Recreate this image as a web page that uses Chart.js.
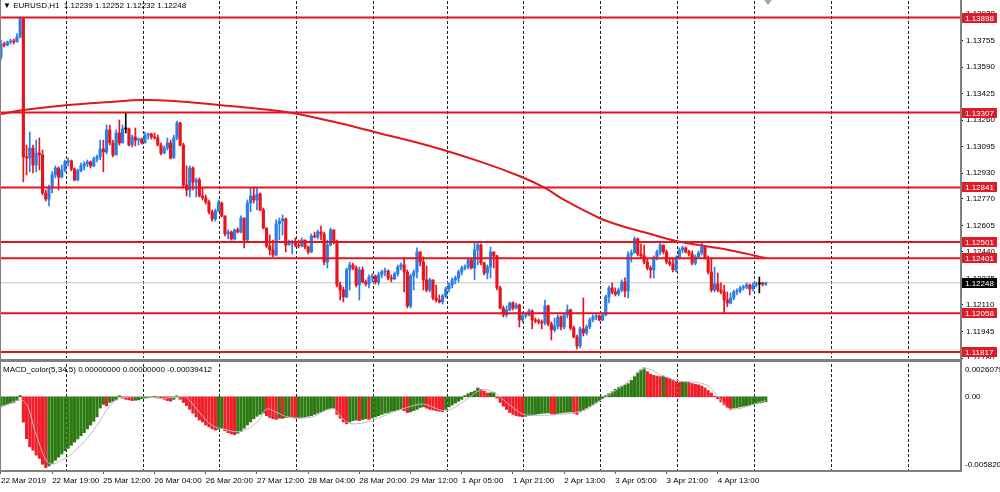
<!DOCTYPE html>
<html>
<head>
<meta charset="utf-8">
<script src="https://cdn.jsdelivr.net/npm/chart.js@4.4.1/dist/chart.umd.min.js"></script>
<style>
html, body { margin: 0; padding: 0; background: #fff; }
#wrap { position: relative; width: 1000px; height: 492px; overflow: hidden; font-family: "Liberation Sans", Arial, sans-serif; }
canvas { position: absolute; left: 0; }
#priceChart { top: 0; }
#macdChart { top: 359px; }
.hdr { position: absolute; left: 3px; font-size: 8px; line-height: 10px; color: #000; white-space: pre; }
.ln { position: absolute; background: #808080; }
#shift { position: absolute; left: 764px; top: 0; width: 0; height: 0; border-left: 4px solid transparent; border-right: 4px solid transparent; border-top: 5px solid #a8a8a8; }
</style>
</head>
<body>
<div id="wrap">
  <canvas id="priceChart" width="1000" height="359"></canvas>
  <canvas id="macdChart" width="1000" height="133"></canvas>
  <div class="ln" style="left:0;top:0;width:1px;height:472px"></div>
  <div class="ln" style="left:960px;top:0;width:2px;height:472px"></div>
  <div class="ln" style="left:0;top:359px;width:962px;height:3px"></div>
  <div class="ln" style="left:0;top:470px;width:962px;height:2px"></div>
  <div class="hdr" style="top:1px">▼ EURUSD,H1  1.12239 1.12252 1.12232 1.12248</div>
  <div class="hdr" style="top:365px">MACD_color(5,34,5) 0.00000000 0.00000000 -0.00039412</div>
  <div id="shift"></div>
</div>
<script>
// ---- data (H1 bars, index 0 = 22 Mar 2019 03:00) ----
const xLabels = ['22 Mar 2019', '22 Mar 19:00', '25 Mar 12:00', '26 Mar 04:00', '26 Mar 20:00',
  '27 Mar 12:00', '28 Mar 04:00', '28 Mar 20:00', '29 Mar 12:00', '1 Apr 05:00',
  '1 Apr 21:00', '2 Apr 13:00', '3 Apr 05:00', '3 Apr 21:00', '4 Apr 13:00'];
const labelBars = [0, 16, 32, 48, 64, 80, 96, 112, 128, 144, 160, 176, 192, 208, 224];
const gridBars = [20.3, 44.3, 68.2, 92.2, 116.3, 139.3, 163.2, 187.2, 211.3, 235.3, 259.3, 283.3];

const priceTicks = [1.13920, 1.13755, 1.13590, 1.13425, 1.13260, 1.13095, 1.12930,
  1.12770, 1.12605, 1.12440, 1.12275, 1.12110, 1.11945, 1.11780];
const levels = [1.13898, 1.13307, 1.12841, 1.12501, 1.12401, 1.12058, 1.11817];
const lastPrice = 1.12248;

// open of each bar = close of the bar before
const firstOpen = 1.13652;
const closes = [
  1.13733, 1.13727, 1.13746, 1.13752, 1.13746, 1.13777, 1.13889, 1.13031, 1.13024, 1.13086,
  1.12981, 1.13055, 1.13043, 1.12807, 1.12769, 1.12838, 1.12919, 1.12962, 1.12906, 1.12950,
  1.13000, 1.13006, 1.12956, 1.12888, 1.12944, 1.12975, 1.12987, 1.13000, 1.12975, 1.13018,
  1.13031, 1.13080, 1.13062, 1.13199, 1.13118, 1.13043, 1.13180, 1.13118, 1.13205, 1.13205,
  1.13105, 1.13155, 1.13136, 1.13142, 1.13118, 1.13167, 1.13174, 1.13155, 1.13149, 1.13105,
  1.13055, 1.13086, 1.13118, 1.13024, 1.13149, 1.13242, 1.13105, 1.12856, 1.12825, 1.12962,
  1.12875, 1.12888, 1.12788, 1.12776, 1.12751, 1.12689, 1.12645, 1.12695, 1.12744, 1.12664,
  1.12552, 1.12564, 1.12521, 1.12577, 1.12564, 1.12651, 1.12514, 1.12744, 1.12788, 1.12763,
  1.12800, 1.12701, 1.12589, 1.12477, 1.12452, 1.12421, 1.12614, 1.12632, 1.12645, 1.12483,
  1.12496, 1.12502, 1.12483, 1.12477, 1.12514, 1.12471, 1.12440, 1.12539, 1.12533, 1.12564,
  1.12552, 1.12377, 1.12483, 1.12577, 1.12502, 1.12234, 1.12203, 1.12160, 1.12328, 1.12359,
  1.12340, 1.12234, 1.12328, 1.12253, 1.12241, 1.12284, 1.12290, 1.12253, 1.12297, 1.12315,
  1.12322, 1.12278, 1.12272, 1.12303, 1.12346, 1.12359, 1.12315, 1.12104, 1.12290, 1.12315,
  1.12440, 1.12377, 1.12266, 1.12203, 1.12266, 1.12154, 1.12141, 1.12129, 1.12166, 1.12210,
  1.12234, 1.12266, 1.12278, 1.12315, 1.12340, 1.12346, 1.12390, 1.12340, 1.12452, 1.12483,
  1.12371, 1.12309, 1.12346, 1.12440, 1.12415, 1.12216, 1.12091, 1.12048, 1.12079, 1.12122,
  1.12091, 1.12110, 1.12017, 1.12042, 1.12048, 1.12073, 1.12017, 1.12011, 1.12004, 1.11998,
  1.12104, 1.11992, 1.11955, 1.11979, 1.12035, 1.11973, 1.12048, 1.12079, 1.11967, 1.11911,
  1.11855, 1.11961, 1.11936, 1.11973, 1.12017, 1.12035, 1.12042, 1.12017, 1.12048, 1.12160,
  1.12216, 1.12191, 1.12178, 1.12203, 1.12253, 1.12197, 1.12421, 1.12434, 1.12521, 1.12427,
  1.12415, 1.12377, 1.12340, 1.12328, 1.12402, 1.12440, 1.12483, 1.12440, 1.12377, 1.12365,
  1.12328, 1.12402, 1.12452, 1.12465, 1.12440, 1.12427, 1.12371, 1.12409, 1.12434, 1.12471,
  1.12402, 1.12315, 1.12203, 1.12241, 1.12203, 1.12191, 1.12141, 1.12122, 1.12154, 1.12191,
  1.12197, 1.12216, 1.12222, 1.12234, 1.12210, 1.12234, 1.12241, 1.12241, 1.12239, 1.12248
];
const highs = [
  1.13758, 1.13746, 1.13752, 1.13764, 1.13764, 1.13796, 1.13901, 1.13895, 1.13105, 1.13186,
  1.13105, 1.13136, 1.13149, 1.13074, 1.12825, 1.12856, 1.12938, 1.12975, 1.12969, 1.12981,
  1.13012, 1.13024, 1.13012, 1.12962, 1.12956, 1.12993, 1.13000, 1.13012, 1.13006, 1.13031,
  1.13043, 1.13136, 1.13136, 1.13230, 1.13230, 1.13136, 1.13199, 1.13261, 1.13230, 1.13304,
  1.13211, 1.13167, 1.13211, 1.13149, 1.13149, 1.13186, 1.13180, 1.13180, 1.13180, 1.13167,
  1.13118, 1.13099, 1.13149, 1.13136, 1.13167, 1.13254, 1.13248, 1.13118, 1.12975, 1.12975,
  1.12969, 1.12900, 1.12900, 1.12838, 1.12794, 1.12763, 1.12701, 1.12707, 1.12763, 1.12750,
  1.12664, 1.12577, 1.12570, 1.12583, 1.12589, 1.12664, 1.12651, 1.12763, 1.12838, 1.12838,
  1.12838, 1.12807, 1.12713, 1.12589, 1.12545, 1.12514, 1.12639, 1.12651, 1.12670, 1.12651,
  1.12514, 1.12514, 1.12527, 1.12514, 1.12527, 1.12514, 1.12477, 1.12552, 1.12564, 1.12577,
  1.12601, 1.12564, 1.12514, 1.12589, 1.12577, 1.12514, 1.12253, 1.12222, 1.12340, 1.12377,
  1.12371, 1.12353, 1.12346, 1.12346, 1.12266, 1.12297, 1.12303, 1.12297, 1.12315, 1.12328,
  1.12340, 1.12328, 1.12297, 1.12315, 1.12359, 1.12371, 1.12402, 1.12328, 1.12303, 1.12328,
  1.12465, 1.12440, 1.12409, 1.12353, 1.12278, 1.12266, 1.12234, 1.12172, 1.12178, 1.12222,
  1.12247, 1.12278, 1.12290, 1.12328, 1.12353, 1.12359, 1.12402, 1.12396, 1.12496, 1.12496,
  1.12490, 1.12377, 1.12359, 1.12471, 1.12440, 1.12421, 1.12228, 1.12104, 1.12104, 1.12129,
  1.12129, 1.12122, 1.12116, 1.12066, 1.12060, 1.12085, 1.12079, 1.12029, 1.12023, 1.12017,
  1.12141, 1.12110, 1.12004, 1.12029, 1.12048, 1.12042, 1.12060, 1.12110, 1.12085, 1.11979,
  1.11923, 1.11973, 1.12154, 1.11986, 1.12029, 1.12048, 1.12054, 1.12048, 1.12054, 1.12172,
  1.12228, 1.12247, 1.12216, 1.12216, 1.12266, 1.12278, 1.12440, 1.12452, 1.12533, 1.12527,
  1.12490, 1.12483, 1.12402, 1.12353, 1.12415, 1.12452, 1.12496, 1.12483, 1.12452, 1.12402,
  1.12402, 1.12415, 1.12465, 1.12477, 1.12471, 1.12452, 1.12446, 1.12421, 1.12446, 1.12496,
  1.12471, 1.12415, 1.12402, 1.12346, 1.12309, 1.12247, 1.12234, 1.12191, 1.12185, 1.12203,
  1.12210, 1.12228, 1.12234, 1.12247, 1.12241, 1.12247, 1.12253, 1.12284, 1.12253, 1.12252
];
const lows = [
  1.13634, 1.13715, 1.13721, 1.13733, 1.13733, 1.13746, 1.13771, 1.12876, 1.12919, 1.12938,
  1.12931, 1.12938, 1.12950, 1.12794, 1.12757, 1.12726, 1.12807, 1.12900, 1.12825, 1.12900,
  1.12938, 1.12975, 1.12944, 1.12882, 1.12882, 1.12938, 1.12950, 1.12969, 1.12962, 1.12969,
  1.13000, 1.13012, 1.12938, 1.13049, 1.13105, 1.13031, 1.13043, 1.13105, 1.13118, 1.13180,
  1.13099, 1.13093, 1.13099, 1.13105, 1.13111, 1.13118, 1.13142, 1.13142, 1.13142, 1.13099,
  1.13043, 1.13049, 1.13074, 1.13018, 1.13024, 1.13136, 1.13099, 1.12838, 1.12788, 1.12782,
  1.12825, 1.12782, 1.12782, 1.12763, 1.12738, 1.12676, 1.12632, 1.12632, 1.12689, 1.12657,
  1.12539, 1.12521, 1.12514, 1.12514, 1.12558, 1.12558, 1.12465, 1.12502, 1.12689, 1.12744,
  1.12701, 1.12695, 1.12583, 1.12465, 1.12421, 1.12409, 1.12415, 1.12514, 1.12545, 1.12440,
  1.12483, 1.12427, 1.12471, 1.12465, 1.12471, 1.12458, 1.12427, 1.12434, 1.12527, 1.12521,
  1.12514, 1.12359, 1.12340, 1.12477, 1.12490, 1.12222, 1.12141, 1.12129, 1.12154, 1.12203,
  1.12328, 1.12222, 1.12141, 1.12247, 1.12228, 1.12216, 1.12253, 1.12241, 1.12234, 1.12278,
  1.12290, 1.12266, 1.12253, 1.12266, 1.12290, 1.12328, 1.12191, 1.12091, 1.12091, 1.12203,
  1.12278, 1.12353, 1.12203, 1.12191, 1.12191, 1.12141, 1.12129, 1.12122, 1.12116, 1.12154,
  1.12191, 1.12216, 1.12241, 1.12253, 1.12297, 1.12328, 1.12334, 1.12334, 1.12266, 1.12359,
  1.12359, 1.12297, 1.12272, 1.12278, 1.12340, 1.12203, 1.12085, 1.12035, 1.12035, 1.12073,
  1.12079, 1.12085, 1.11973, 1.12004, 1.12029, 1.12042, 1.11961, 1.11998, 1.11992, 1.11961,
  1.11986, 1.11979, 1.11892, 1.11942, 1.11961, 1.11955, 1.11961, 1.12029, 1.11955, 1.11905,
  1.11836, 1.11842, 1.11917, 1.11923, 1.11961, 1.12004, 1.12017, 1.12011, 1.12011, 1.12042,
  1.12122, 1.12178, 1.12166, 1.12166, 1.12191, 1.12160, 1.12154, 1.12377, 1.12434, 1.12415,
  1.12402, 1.12365, 1.12328, 1.12278, 1.12278, 1.12390, 1.12421, 1.12427, 1.12365, 1.12353,
  1.12315, 1.12315, 1.12396, 1.12434, 1.12434, 1.12415, 1.12359, 1.12359, 1.12402, 1.12421,
  1.12396, 1.12303, 1.12191, 1.12191, 1.12191, 1.12178, 1.12060, 1.12098, 1.12116, 1.12141,
  1.12172, 1.12185, 1.12203, 1.12210, 1.12172, 1.12197, 1.12222, 1.12185, 1.12228, 1.12232
];

// moving average, read at a few bars along its path
const maBars = [0, 7, 21, 34, 44, 54, 68, 81, 91, 103, 118, 134, 150, 162, 170, 176, 187, 193, 203, 211, 218, 226, 239];
const maValues = [1.13298, 1.13323, 1.13354, 1.13373, 1.13385, 1.13379, 1.13354, 1.13329, 1.13304, 1.13254,
  1.13180, 1.13099, 1.13000, 1.12912, 1.12838, 1.12763, 1.12651, 1.12607, 1.12551, 1.12508, 1.12483, 1.12458, 1.12402];

// MACD_color(5,34,5)
const macdMax = 0.0026079;
const macdMin = -0.0058201;
const macdHist = [
  -0.00071, -0.00066, -0.00060, -0.00052, -0.00045, -0.00031, 0.00010, -0.00202, -0.00333, -0.00398,
  -0.00425, -0.00464, -0.00490, -0.00537, -0.00563, -0.00550, -0.00530, -0.00505, -0.00480, -0.00455,
  -0.00430, -0.00410, -0.00385, -0.00360, -0.00335, -0.00310, -0.00285, -0.00255, -0.00225, -0.00195,
  -0.00160, -0.00090, -0.00060, -0.00072, -0.00045, -0.00035, -0.00025, 0.00008, -0.00010, -0.00020,
  -0.00025, -0.00030, -0.00028, -0.00025, -0.00015, -0.00010, -0.00008, -0.00005, 0.00003, -0.00005,
  -0.00010, -0.00020, -0.00030, -0.00035, -0.00020, 0.00008, -0.00020, -0.00045, -0.00070, -0.00100,
  -0.00130, -0.00160, -0.00185, -0.00200, -0.00225, -0.00240, -0.00255, -0.00265, -0.00258, -0.00250,
  -0.00270, -0.00285, -0.00295, -0.00302, -0.00290, -0.00275, -0.00250, -0.00225, -0.00200, -0.00175,
  -0.00155, -0.00140, -0.00130, -0.00150, -0.00165, -0.00175, -0.00180, -0.00170, -0.00172, -0.00165,
  -0.00160, -0.00165, -0.00170, -0.00168, -0.00165, -0.00160, -0.00155, -0.00150, -0.00140, -0.00130,
  -0.00120, -0.00110, -0.00100, -0.00095, -0.00090, -0.00140, -0.00170, -0.00200, -0.00215, -0.00200,
  -0.00190, -0.00185, -0.00190, -0.00180, -0.00175, -0.00180, -0.00170, -0.00160, -0.00150, -0.00140,
  -0.00130, -0.00125, -0.00115, -0.00110, -0.00105, -0.00100, -0.00110, -0.00125, -0.00120, -0.00110,
  -0.00100, -0.00085, -0.00080, -0.00090, -0.00100, -0.00105, -0.00110, -0.00115, -0.00120, -0.00100,
  -0.00080, -0.00065, -0.00050, -0.00035, -0.00020, 0.00010, 0.00025, 0.00035, 0.00045, 0.00070,
  0.00060, 0.00045, 0.00030, 0.00032, 0.00034, -0.00010, -0.00045, -0.00075, -0.00100, -0.00125,
  -0.00140, -0.00150, -0.00155, -0.00160, -0.00155, -0.00150, -0.00145, -0.00140, -0.00135, -0.00132,
  -0.00130, -0.00128, -0.00135, -0.00140, -0.00132, -0.00128, -0.00125, -0.00122, -0.00120, -0.00130,
  -0.00140, -0.00120, -0.00105, -0.00090, -0.00075, -0.00060, -0.00045, -0.00030, -0.00015, 0.00010,
  0.00025, 0.00040, 0.00060, 0.00075, 0.00085, 0.00095, 0.00105, 0.00130, 0.00160, 0.00190,
  0.00215, 0.00230, 0.00200, 0.00180, 0.00170, 0.00165, 0.00160, 0.00165, 0.00155, 0.00145,
  0.00130, 0.00120, 0.00115, 0.00118, 0.00120, 0.00115, 0.00105, 0.00100, 0.00095, 0.00085,
  0.00070, 0.00050, 0.00030, 0.00005, -0.00015, -0.00040, -0.00065, -0.00085, -0.00100, -0.00090,
  -0.00085, -0.00080, -0.00075, -0.00070, -0.00065, -0.00060, -0.00055, -0.00050, -0.00045, -0.00040
];
const signalBars = [0, 7, 11, 15, 20, 25, 30, 34, 37, 45, 50, 56, 58, 62, 66, 70, 75, 80, 83, 86, 90, 97,
  102, 104, 108, 111, 116, 121, 127, 132, 139, 145, 150, 154, 158, 162, 164, 172, 182, 188, 191, 195,
  201, 207, 212, 220, 224, 228, 239];
const signalValues = [-0.00084, -0.00031, -0.00300, -0.00529, -0.00490, -0.00385, -0.00228, -0.00071, -0.00013,
  0.00000, -0.00013, 0.00000, -0.00005, -0.00123, -0.00228, -0.00260, -0.00275, -0.00202, -0.00097, -0.00123,
  -0.00162, -0.00162, -0.00102, -0.00097, -0.00202, -0.00215, -0.00189, -0.00136, -0.00084, -0.00058, -0.00110,
  -0.00031, 0.00055, 0.00034, -0.00045, -0.00123, -0.00144, -0.00144, -0.00110, -0.00018, 0.00034, 0.00100,
  0.00223, 0.00165, 0.00126, 0.00100, 0.00008, -0.00097, -0.00031];

// ---- drawing ----
const UP = '#2a7ee8', DOWN = '#e8131c', DOJI = '#000000';
const LEVEL = '#e3141e';
const GREEN = '#2e7a14', RED = '#f0202a';
const FONT = 'Liberation Sans';
const xMin = -0.3, xMax = 299.7;
const yMin = 1.11780, yMax = 1.14001;

Chart.defaults.font.family = FONT;
Chart.defaults.font.size = 8;
Chart.defaults.color = '#000';

function openOf(i) { return i === 0 ? firstOpen : closes[i - 1]; }
function candleColor(i) {
  const o = openOf(i), c = closes[i];
  return c > o ? UP : (c < o ? DOWN : DOJI);
}

const vGrid = {
  id: 'vGrid',
  beforeDatasetsDraw(chart) {
    const { ctx, chartArea: a, scales: { x } } = chart;
    ctx.save();
    ctx.strokeStyle = '#202020';
    ctx.lineWidth = 1;
    ctx.setLineDash([3, 2]);
    gridBars.forEach(b => {
      const px = Math.round(x.getPixelForValue(b)) + 0.5;
      ctx.beginPath();
      ctx.moveTo(px, a.top);
      ctx.lineTo(px, a.bottom);
      ctx.stroke();
    });
    ctx.restore();
  }
};

const priceTags = {
  id: 'priceTags',
  afterDraw(chart) {
    const { ctx, chartArea: a, scales: { y } } = chart;
    ctx.save();
    ctx.font = '8px "' + FONT + '"';
    ctx.textBaseline = 'middle';
    const tag = (v, bg) => {
      const py = Math.round(y.getPixelForValue(v));
      ctx.fillStyle = bg;
      ctx.fillRect(a.right + 2, py - 5, 35, 10);
      ctx.fillStyle = '#fff';
      ctx.fillText(v.toFixed(5), a.right + 5, py + 0.5);
    };
    tag(lastPrice, '#000');
    levels.forEach(v => tag(v, '#dc1c28'));
    ctx.restore();
  }
};

const macdTags = {
  id: 'macdTags',
  afterDraw(chart) {
    const { ctx, chartArea: a, scales: { y } } = chart;
    ctx.save();
    ctx.font = '8px "' + FONT + '"';
    ctx.fillStyle = '#000';
    const x0 = a.right + 5;
    const z = Math.round(y.getPixelForValue(0));
    [[a.top + 2, 'top', '0.0026079'], [z, 'middle', '0.00'], [a.bottom - 1, 'bottom', '-0.0058201']].forEach(([py, base, txt]) => {
      ctx.textBaseline = base;
      ctx.fillText(txt, x0, py);
    });
    ctx.restore();
  }
};

const common = {
  responsive: false,
  animation: false,
  events: [],
  plugins: { legend: { display: false }, tooltip: { enabled: false } }
};

new Chart(document.getElementById('priceChart'), {
  type: 'bar',
  data: {
    datasets: [
      ...levels.map(v => ({
        type: 'line', data: [{ x: xMin, y: v }, { x: xMax, y: v }],
        borderColor: LEVEL, borderWidth: 2, pointRadius: 0, order: 0
      })),
      {
        type: 'line', data: maBars.map((b, k) => ({ x: b, y: maValues[k] })),
        borderColor: '#e01820', borderWidth: 2, pointRadius: 0, tension: 0.4, order: 1
      },
      {
        type: 'bar', data: closes.map((c, i) => ({ x: i, y: [openOf(i), c] })),
        backgroundColor: ctx => candleColor(ctx.dataIndex),
        barThickness: 2.5, minBarLength: 1, grouped: false, borderWidth: 0, order: 2
      },
      {
        type: 'bar', data: closes.map((c, i) => ({ x: i, y: [lows[i], highs[i]] })),
        backgroundColor: ctx => candleColor(ctx.dataIndex),
        barThickness: 1, grouped: false, borderWidth: 0, order: 3
      },
      {
        type: 'line', data: [{ x: xMin, y: lastPrice }, { x: xMax, y: lastPrice }],
        borderColor: '#c4c4c4', borderWidth: 1, pointRadius: 0, order: 5
      }
    ]
  },
  options: {
    ...common,
    layout: { padding: { top: 1, bottom: 1, left: 0, right: 0 } },
    scales: {
      x: { type: 'linear', min: xMin, max: xMax, offset: false, display: false, grid: { offset: false } },
      y: {
        position: 'right', min: yMin, max: yMax,
        afterBuildTicks: s => { s.ticks = priceTicks.map(v => ({ value: v })); },
        afterFit: s => { s.width = 40; s.paddingTop = 0; s.paddingBottom = 0; },
        grid: { drawOnChartArea: false, drawTicks: true, tickLength: 3, color: '#000' },
        border: { display: false },
        ticks: { autoSkip: false, padding: 3, color: '#000', font: { size: 8 }, callback: v => Number(v).toFixed(5) }
      }
    }
  },
  plugins: [vGrid, priceTags]
});

new Chart(document.getElementById('macdChart'), {
  type: 'bar',
  data: {
    datasets: [
      {
        type: 'line', data: signalBars.map((b, k) => ({ x: b, y: signalValues[k] })),
        borderColor: '#bdbdbd', borderWidth: 1, pointRadius: 0, tension: 0.35, order: 0
      },
      {
        type: 'bar', data: macdHist.map((v, i) => ({ x: i, y: v })),
        backgroundColor: ctx => {
          const i = ctx.dataIndex;
          return (i === 0 || macdHist[i] >= macdHist[i - 1]) ? GREEN : RED;
        },
        barThickness: 2.5, grouped: false, borderWidth: 0, order: 1
      }
    ]
  },
  options: {
    ...common,
    layout: { padding: { top: 5, bottom: 0, left: 0, right: 0 } },
    scales: {
      x: {
        type: 'linear', min: xMin, max: xMax, offset: false, position: 'bottom',
        afterBuildTicks: s => { s.ticks = labelBars.map(v => ({ value: v })); },
        afterFit: s => { s.height = 22; s.paddingLeft = 0; s.paddingRight = 0; },
        grid: { offset: false, drawOnChartArea: false, drawTicks: true, tickLength: 4, color: '#606060' },
        border: { display: false },
        ticks: { autoSkip: false, maxRotation: 0, align: 'start', padding: 2, color: '#000', font: { size: 8 },
          callback: (v, i) => xLabels[i] }
      },
      y: {
        position: 'right', min: macdMin, max: macdMax,
        afterFit: s => { s.width = 40; s.paddingTop = 0; s.paddingBottom = 0; },
        grid: { display: false },
        border: { display: false },
        ticks: { display: false }
      }
    }
  },
  plugins: [vGrid, macdTags]
});
</script>
</body>
</html>
